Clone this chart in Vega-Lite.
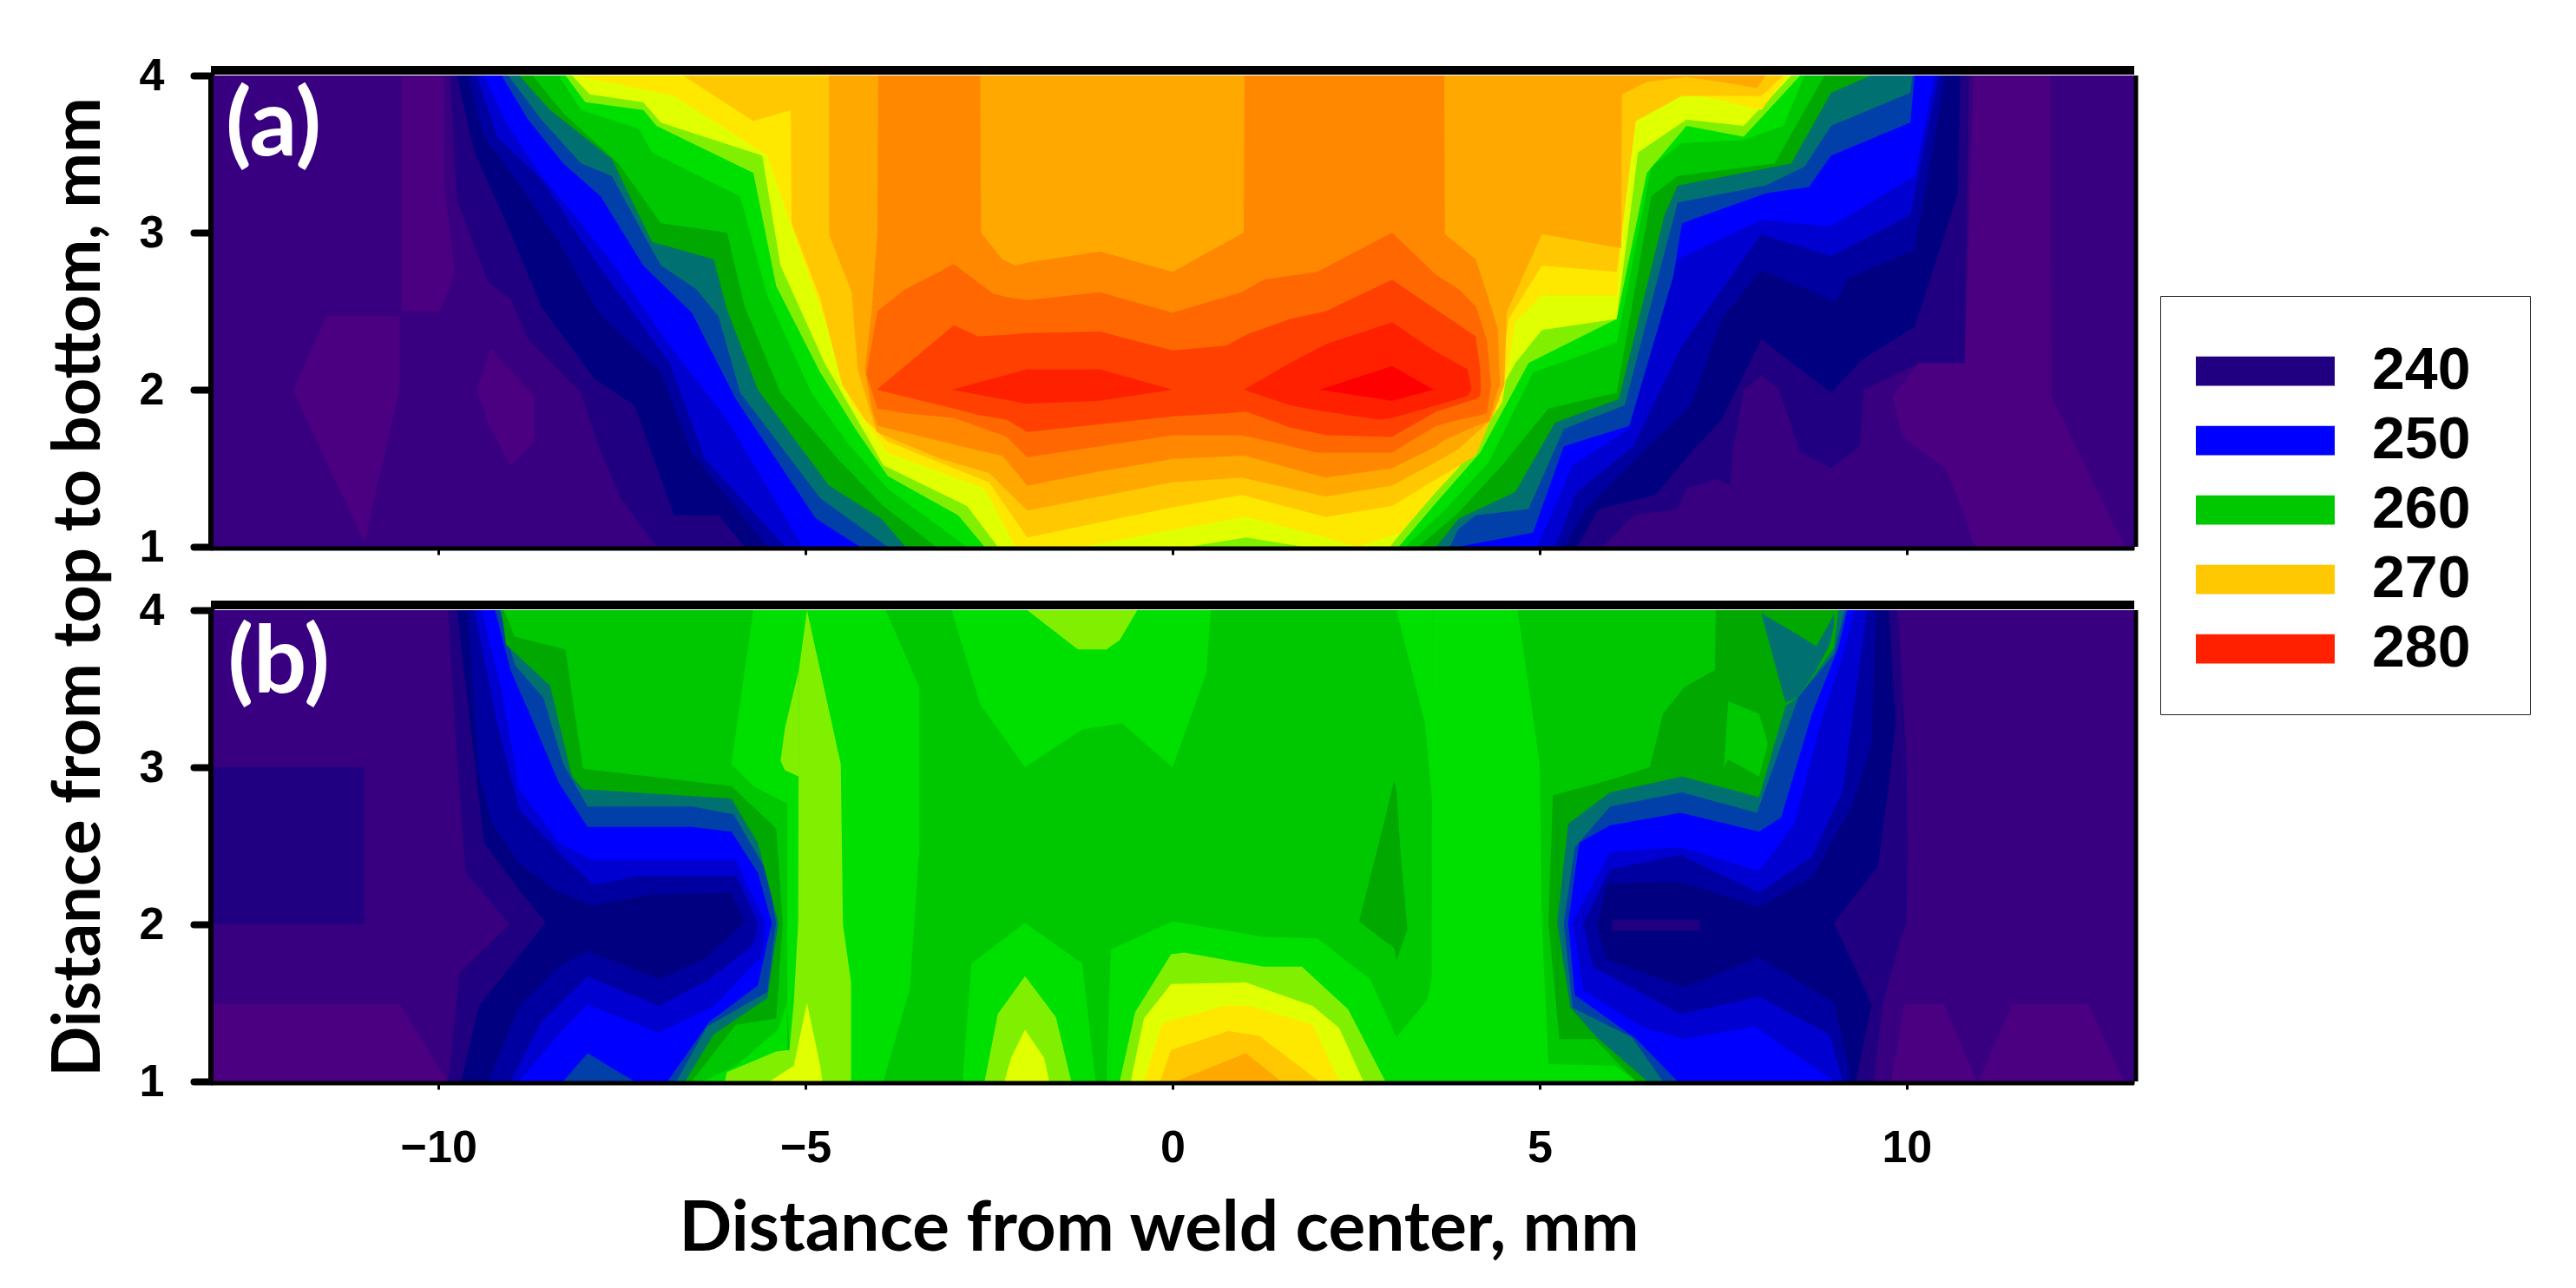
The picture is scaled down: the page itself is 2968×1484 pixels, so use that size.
{"$schema":"https://vega.github.io/schema/vega-lite/v6.json","background":"white","padding":{"left":52,"top":61,"right":20,"bottom":20},"bounds":"flush","spacing":73,
"config":{"view":{"stroke":null},"axis":{"grid":false,"domain":true,"zindex":1,"domainColor":"black","tickColor":"black","labelColor":"black","titleColor":"black","labelFont":"Liberation Sans","labelFontWeight":"bold","labelFontSize":52,"titleFont":"Lato","titleFontWeight":"bold","titleFontSize":78}},
"datasets":{"a":[
{"level":238,"part":0,"x":-13.1,"y":1,"y2":4},{"level":238,"part":0,"x":13.1,"y":1,"y2":4},
{"level":236,"part":1,"x":-10.5,"y":2.5,"y2":4},{"level":236,"part":1,"x":-10,"y":2.5,"y2":4},{"level":236,"part":1,"x":-9.93,"y":2.55,"y2":4},{"level":236,"part":1,"x":-9.92,"y":2.57,"y2":3.3},{"level":236,"part":1,"x":-9.84,"y":2.65,"y2":3},{"level":236,"part":1,"x":-9.78,"y":2.77,"y2":2.77},
{"level":236,"part":2,"x":-11.98,"y":2,"y2":2},{"level":236,"part":2,"x":-11.53,"y":1.54,"y2":2.47},{"level":236,"part":2,"x":-11.01,"y":1.03,"y2":2.47},{"level":236,"part":2,"x":-10.53,"y":2,"y2":2.47},
{"level":236,"part":3,"x":-9.48,"y":2,"y2":2},{"level":236,"part":3,"x":-9.29,"y":1.75,"y2":2.26},{"level":236,"part":3,"x":-9.02,"y":1.52,"y2":2.12},{"level":236,"part":3,"x":-8.69,"y":1.67,"y2":1.96},
{"level":236,"part":4,"x":9.81,"y":1.96,"y2":1.96},{"level":236,"part":4,"x":9.93,"y":1.71,"y2":2.03},{"level":236,"part":4,"x":10.17,"y":1.62,"y2":2.17},{"level":236,"part":4,"x":10.53,"y":1.5,"y2":2.17},{"level":236,"part":4,"x":10.79,"y":1.2,"y2":2.17},{"level":236,"part":4,"x":10.91,"y":1.02,"y2":4},{"level":236,"part":4,"x":10.97,"y":1,"y2":4},{"level":236,"part":4,"x":11.96,"y":1,"y2":4},{"level":236,"part":4,"x":11.97,"y":1,"y2":1.96},{"level":236,"part":4,"x":12.97,"y":1,"y2":1},
{"level":240,"part":0,"x":-9.84,"y":4,"y2":4},{"level":240,"part":0,"x":-9.75,"y":3.21,"y2":4},{"level":240,"part":0,"x":-9.32,"y":2.68,"y2":4},{"level":240,"part":0,"x":-9.02,"y":2.58,"y2":4},{"level":240,"part":0,"x":-8.78,"y":2.32,"y2":4},{"level":240,"part":0,"x":-8.06,"y":1.98,"y2":4},{"level":240,"part":0,"x":-7.82,"y":1.64,"y2":4},{"level":240,"part":0,"x":-7.52,"y":1.31,"y2":4},{"level":240,"part":0,"x":-7.03,"y":1,"y2":4},{"level":240,"part":0,"x":5.84,"y":1,"y2":4},{"level":240,"part":0,"x":5.93,"y":1.03,"y2":4},{"level":240,"part":0,"x":6.28,"y":1.2,"y2":4},{"level":240,"part":0,"x":6.88,"y":1.24,"y2":4},{"level":240,"part":0,"x":7,"y":1.37,"y2":4},{"level":240,"part":0,"x":7.42,"y":1.43,"y2":4},{"level":240,"part":0,"x":7.6,"y":1.39,"y2":4},{"level":240,"part":0,"x":7.63,"y":1.6,"y2":4},{"level":240,"part":0,"x":7.78,"y":2,"y2":4},{"level":240,"part":0,"x":8.02,"y":2.09,"y2":4},{"level":240,"part":0,"x":8.26,"y":2,"y2":4},{"level":240,"part":0,"x":8.55,"y":1.6,"y2":4},{"level":240,"part":0,"x":8.97,"y":1.5,"y2":4},{"level":240,"part":0,"x":9.36,"y":1.64,"y2":4},{"level":240,"part":0,"x":9.42,"y":2,"y2":4},{"level":240,"part":0,"x":10.17,"y":2.17,"y2":4},{"level":240,"part":0,"x":10.79,"y":2.17,"y2":4},{"level":240,"part":0,"x":10.85,"y":4,"y2":4},
{"level":242,"part":0,"x":-9.75,"y":4,"y2":4},{"level":242,"part":0,"x":-9.51,"y":3.51,"y2":4},{"level":242,"part":0,"x":-9.02,"y":3,"y2":4},{"level":242,"part":0,"x":-8.6,"y":2.53,"y2":4},{"level":242,"part":0,"x":-7.88,"y":2.07,"y2":4},{"level":242,"part":0,"x":-7.33,"y":1.9,"y2":4},{"level":242,"part":0,"x":-6.79,"y":1.2,"y2":4},{"level":242,"part":0,"x":-6.19,"y":1.2,"y2":4},{"level":242,"part":0,"x":-5.83,"y":1,"y2":4},{"level":242,"part":0,"x":5.51,"y":1,"y2":4},{"level":242,"part":0,"x":5.81,"y":1.24,"y2":4},{"level":242,"part":0,"x":6.58,"y":1.33,"y2":4},{"level":242,"part":0,"x":7.06,"y":1.6,"y2":4},{"level":242,"part":0,"x":7.48,"y":1.81,"y2":4},{"level":242,"part":0,"x":8.02,"y":2.32,"y2":4},{"level":242,"part":0,"x":8.97,"y":1.98,"y2":4},{"level":242,"part":0,"x":9.39,"y":2.19,"y2":4},{"level":242,"part":0,"x":10.11,"y":2.4,"y2":4},{"level":242,"part":0,"x":10.7,"y":3.25,"y2":4},{"level":242,"part":0,"x":10.73,"y":4,"y2":4},
{"level":244,"part":0,"x":-9.6,"y":4,"y2":4},{"level":244,"part":0,"x":-9.38,"y":3.61,"y2":4},{"level":244,"part":0,"x":-8.78,"y":3.23,"y2":4},{"level":244,"part":0,"x":-8.36,"y":2.94,"y2":4},{"level":244,"part":0,"x":-7.82,"y":2.49,"y2":4},{"level":244,"part":0,"x":-6.97,"y":2.11,"y2":4},{"level":244,"part":0,"x":-6.55,"y":1.6,"y2":4},{"level":244,"part":0,"x":-5.52,"y":1,"y2":4},{"level":244,"part":0,"x":5.33,"y":1,"y2":4},{"level":244,"part":0,"x":5.63,"y":1.24,"y2":4},{"level":244,"part":0,"x":6.4,"y":1.6,"y2":4},{"level":244,"part":0,"x":7.06,"y":1.9,"y2":4},{"level":244,"part":0,"x":7.48,"y":2.45,"y2":4},{"level":244,"part":0,"x":8.02,"y":2.76,"y2":4},{"level":244,"part":0,"x":9.03,"y":2.56,"y2":4},{"level":244,"part":0,"x":9.21,"y":2.71,"y2":4},{"level":244,"part":0,"x":10.11,"y":2.89,"y2":4},{"level":244,"part":0,"x":10.53,"y":4,"y2":4},
{"level":246,"part":0,"x":-9.48,"y":4,"y2":4},{"level":246,"part":0,"x":-9.2,"y":3.61,"y2":4},{"level":246,"part":0,"x":-8.6,"y":3.34,"y2":4},{"level":246,"part":0,"x":-7.88,"y":2.83,"y2":4},{"level":246,"part":0,"x":-6.85,"y":2.17,"y2":4},{"level":246,"part":0,"x":-6.37,"y":1.56,"y2":4},{"level":246,"part":0,"x":-5.28,"y":1,"y2":4},{"level":246,"part":0,"x":5.21,"y":1,"y2":4},{"level":246,"part":0,"x":5.51,"y":1.35,"y2":4},{"level":246,"part":0,"x":6.28,"y":1.64,"y2":4},{"level":246,"part":0,"x":6.94,"y":2.28,"y2":4},{"level":246,"part":0,"x":8.02,"y":2.99,"y2":4},{"level":246,"part":0,"x":8.97,"y":2.85,"y2":4},{"level":246,"part":0,"x":10.05,"y":3.11,"y2":4},{"level":246,"part":0,"x":10.44,"y":4,"y2":4},
{"level":250,"part":0,"x":-9.38,"y":4,"y2":4},{"level":250,"part":0,"x":-9.08,"y":3.7,"y2":4},{"level":250,"part":0,"x":-8.6,"y":3.36,"y2":4},{"level":250,"part":0,"x":-8.18,"y":3.13,"y2":4},{"level":250,"part":0,"x":-7.67,"y":2.83,"y2":4},{"level":250,"part":0,"x":-6.85,"y":2.28,"y2":4},{"level":250,"part":0,"x":-6.07,"y":1.81,"y2":4},{"level":250,"part":0,"x":-5.04,"y":1,"y2":4},{"level":250,"part":0,"x":4.97,"y":1,"y2":4},{"level":250,"part":0,"x":5.45,"y":1.52,"y2":4},{"level":250,"part":0,"x":6.22,"y":1.75,"y2":4},{"level":250,"part":0,"x":6.88,"y":2.83,"y2":4},{"level":250,"part":0,"x":8.02,"y":3.08,"y2":4},{"level":250,"part":0,"x":8.97,"y":3.04,"y2":4},{"level":250,"part":0,"x":10.11,"y":3.36,"y2":4},{"level":250,"part":0,"x":10.38,"y":4,"y2":4},
{"level":252,"part":0,"x":-9.14,"y":4,"y2":4},{"level":252,"part":0,"x":-8.78,"y":3.72,"y2":4},{"level":252,"part":0,"x":-8.3,"y":3.44,"y2":4},{"level":252,"part":0,"x":-7.79,"y":3.23,"y2":4},{"level":252,"part":0,"x":-7.21,"y":2.79,"y2":4},{"level":252,"part":0,"x":-6.55,"y":2.49,"y2":4},{"level":252,"part":0,"x":-5.95,"y":1.94,"y2":4},{"level":252,"part":0,"x":-4.86,"y":1.18,"y2":4},{"level":252,"part":0,"x":-4.26,"y":1,"y2":4},{"level":252,"part":0,"x":3.89,"y":1,"y2":4},{"level":252,"part":0,"x":4.91,"y":1.09,"y2":4},{"level":252,"part":0,"x":5.33,"y":1.64,"y2":4},{"level":252,"part":0,"x":6.22,"y":1.77,"y2":4},{"level":252,"part":0,"x":6.82,"y":2.72,"y2":4},{"level":252,"part":0,"x":6.94,"y":3.06,"y2":4},{"level":252,"part":0,"x":8.08,"y":3.25,"y2":4},{"level":252,"part":0,"x":8.67,"y":3.29,"y2":4},{"level":252,"part":0,"x":8.97,"y":3.49,"y2":4},{"level":252,"part":0,"x":10.05,"y":3.7,"y2":4},{"level":252,"part":0,"x":10.11,"y":4,"y2":4},
{"level":254,"part":0,"x":-9.05,"y":4,"y2":4},{"level":254,"part":0,"x":-8.6,"y":3.72,"y2":4},{"level":254,"part":0,"x":-8.06,"y":3.44,"y2":4},{"level":254,"part":0,"x":-7.64,"y":3.36,"y2":4},{"level":254,"part":0,"x":-7.09,"y":2.89,"y2":4},{"level":254,"part":0,"x":-6.97,"y":2.79,"y2":4},{"level":254,"part":0,"x":-6.49,"y":2.64,"y2":4},{"level":254,"part":0,"x":-6.19,"y":2.47,"y2":4},{"level":254,"part":0,"x":-5.89,"y":1.98,"y2":4},{"level":254,"part":0,"x":-4.8,"y":1.31,"y2":4},{"level":254,"part":0,"x":-4.15,"y":1.09,"y2":4},{"level":254,"part":0,"x":-3.88,"y":1,"y2":4},{"level":254,"part":0,"x":3.78,"y":1,"y2":4},{"level":254,"part":0,"x":3.89,"y":1.11,"y2":4},{"level":254,"part":0,"x":4.13,"y":1.2,"y2":4},{"level":254,"part":0,"x":4.85,"y":1.24,"y2":4},{"level":254,"part":0,"x":5.33,"y":1.75,"y2":4},{"level":254,"part":0,"x":6.16,"y":1.9,"y2":4},{"level":254,"part":0,"x":6.7,"y":2.87,"y2":4},{"level":254,"part":0,"x":6.88,"y":3.19,"y2":4},{"level":254,"part":0,"x":8.08,"y":3.3,"y2":4},{"level":254,"part":0,"x":8.61,"y":3.42,"y2":4},{"level":254,"part":0,"x":8.97,"y":3.68,"y2":4},{"level":254,"part":0,"x":10.05,"y":3.89,"y2":4},{"level":254,"part":0,"x":10.08,"y":4,"y2":4},
{"level":256,"part":0,"x":-8.9,"y":4,"y2":4},{"level":256,"part":0,"x":-8.48,"y":3.78,"y2":4},{"level":256,"part":0,"x":-7.64,"y":3.47,"y2":4},{"level":256,"part":0,"x":-7.09,"y":2.94,"y2":4},{"level":256,"part":0,"x":-6.25,"y":2.83,"y2":4},{"level":256,"part":0,"x":-6.07,"y":2.51,"y2":4},{"level":256,"part":0,"x":-5.65,"y":2,"y2":4},{"level":256,"part":0,"x":-4.68,"y":1.39,"y2":4},{"level":256,"part":0,"x":-3.97,"y":1.18,"y2":4},{"level":256,"part":0,"x":-3.64,"y":1,"y2":4},{"level":256,"part":0,"x":3.59,"y":1,"y2":4},{"level":256,"part":0,"x":3.9,"y":1.18,"y2":4},{"level":256,"part":0,"x":4.67,"y":1.35,"y2":4},{"level":256,"part":0,"x":5.21,"y":1.79,"y2":4},{"level":256,"part":0,"x":6.08,"y":1.94,"y2":4},{"level":256,"part":0,"x":6.7,"y":3.11,"y2":4},{"level":256,"part":0,"x":6.88,"y":3.3,"y2":4},{"level":256,"part":0,"x":8.43,"y":3.44,"y2":4},{"level":256,"part":0,"x":8.97,"y":3.89,"y2":4},{"level":256,"part":0,"x":9.51,"y":4,"y2":4},
{"level":260,"part":0,"x":-8.72,"y":4,"y2":4},{"level":260,"part":0,"x":-8.3,"y":3.76,"y2":4},{"level":260,"part":0,"x":-7.55,"y":3.44,"y2":4},{"level":260,"part":0,"x":-6.97,"y":3.06,"y2":4},{"level":260,"part":0,"x":-6.07,"y":3,"y2":4},{"level":260,"part":0,"x":-5.83,"y":2.53,"y2":4},{"level":260,"part":0,"x":-5.34,"y":1.98,"y2":4},{"level":260,"part":0,"x":-4.56,"y":1.56,"y2":4},{"level":260,"part":0,"x":-3.94,"y":1.26,"y2":4},{"level":260,"part":0,"x":-3.22,"y":1,"y2":4},{"level":260,"part":0,"x":3.35,"y":1,"y2":4},{"level":260,"part":0,"x":3.9,"y":1.22,"y2":4},{"level":260,"part":0,"x":4.49,"y":1.52,"y2":4},{"level":260,"part":0,"x":5.12,"y":1.88,"y2":4},{"level":260,"part":0,"x":6.05,"y":1.98,"y2":4},{"level":260,"part":0,"x":6.52,"y":3.23,"y2":4},{"level":260,"part":0,"x":6.88,"y":3.36,"y2":4},{"level":260,"part":0,"x":8.2,"y":3.44,"y2":4},{"level":260,"part":0,"x":8.88,"y":4,"y2":4},
{"level":262,"part":0,"x":-8.36,"y":4,"y2":4},{"level":262,"part":0,"x":-8.06,"y":3.78,"y2":4},{"level":262,"part":0,"x":-7.27,"y":3.66,"y2":4},{"level":262,"part":0,"x":-7.09,"y":3.51,"y2":4},{"level":262,"part":0,"x":-5.89,"y":3.23,"y2":4},{"level":262,"part":0,"x":-5.52,"y":2.6,"y2":4},{"level":262,"part":0,"x":-4.92,"y":1.98,"y2":4},{"level":262,"part":0,"x":-4.44,"y":1.67,"y2":4},{"level":262,"part":0,"x":-3.88,"y":1.37,"y2":4},{"level":262,"part":0,"x":-2.8,"y":1,"y2":4},{"level":262,"part":0,"x":3.17,"y":1,"y2":4},{"level":262,"part":0,"x":3.72,"y":1.24,"y2":4},{"level":262,"part":0,"x":4.31,"y":1.54,"y2":4},{"level":262,"part":0,"x":4.91,"y":2.11,"y2":4},{"level":262,"part":0,"x":6.05,"y":2.3,"y2":4},{"level":262,"part":0,"x":6.52,"y":3.42,"y2":4},{"level":262,"part":0,"x":6.94,"y":3.57,"y2":4},{"level":262,"part":0,"x":7.78,"y":3.59,"y2":4},{"level":262,"part":0,"x":8.32,"y":3.68,"y2":4},{"level":262,"part":0,"x":8.61,"y":4,"y2":4},
{"level":264,"part":0,"x":-8.27,"y":4,"y2":4},{"level":264,"part":0,"x":-8,"y":3.83,"y2":4},{"level":264,"part":0,"x":-7.21,"y":3.78,"y2":4},{"level":264,"part":0,"x":-7.03,"y":3.68,"y2":4},{"level":264,"part":0,"x":-5.71,"y":3.38,"y2":4},{"level":264,"part":0,"x":-5.4,"y":2.66,"y2":4},{"level":264,"part":0,"x":-4.8,"y":2.11,"y2":4},{"level":264,"part":0,"x":-4.32,"y":1.75,"y2":4},{"level":264,"part":0,"x":-3.88,"y":1.45,"y2":4},{"level":264,"part":0,"x":-2.92,"y":1.2,"y2":4},{"level":264,"part":0,"x":-2.56,"y":1,"y2":4},{"level":264,"part":0,"x":3.08,"y":1,"y2":4},{"level":264,"part":0,"x":3.59,"y":1.28,"y2":4},{"level":264,"part":0,"x":4.19,"y":1.6,"y2":4},{"level":264,"part":0,"x":4.85,"y":2.17,"y2":4},{"level":264,"part":0,"x":6.05,"y":2.45,"y2":4},{"level":264,"part":0,"x":6.46,"y":3.38,"y2":4},{"level":264,"part":0,"x":7,"y":3.68,"y2":4},{"level":264,"part":0,"x":7.78,"y":3.61,"y2":4},{"level":264,"part":0,"x":8.55,"y":4,"y2":4},
{"level":266,"part":0,"x":-8.18,"y":4,"y2":4},{"level":266,"part":0,"x":-7.94,"y":3.88,"y2":4},{"level":266,"part":0,"x":-7.21,"y":3.83,"y2":4},{"level":266,"part":0,"x":-6.97,"y":3.7,"y2":4},{"level":266,"part":0,"x":-5.59,"y":3.49,"y2":4},{"level":266,"part":0,"x":-5.34,"y":2.79,"y2":4},{"level":266,"part":0,"x":-4.74,"y":2.17,"y2":4},{"level":266,"part":0,"x":-4.32,"y":1.83,"y2":4},{"level":266,"part":0,"x":-3.94,"y":1.52,"y2":4},{"level":266,"part":0,"x":-2.8,"y":1.26,"y2":4},{"level":266,"part":0,"x":-2.38,"y":1,"y2":4},{"level":266,"part":0,"x":0.22,"y":1,"y2":4},{"level":266,"part":0,"x":1,"y":1.06,"y2":4},{"level":266,"part":0,"x":1.79,"y":1,"y2":4},{"level":266,"part":0,"x":2.96,"y":1,"y2":4},{"level":266,"part":0,"x":3.53,"y":1.33,"y2":4},{"level":266,"part":0,"x":4.1,"y":1.69,"y2":4},{"level":266,"part":0,"x":4.67,"y":2.17,"y2":4},{"level":266,"part":0,"x":5.03,"y":2.38,"y2":4},{"level":266,"part":0,"x":6.05,"y":2.45,"y2":4},{"level":266,"part":0,"x":6.34,"y":3.51,"y2":4},{"level":266,"part":0,"x":7,"y":3.72,"y2":4},{"level":266,"part":0,"x":7.78,"y":3.68,"y2":4},{"level":266,"part":0,"x":8.43,"y":4,"y2":4},
{"level":268,"part":0,"x":-8.18,"y":4,"y2":4},{"level":268,"part":0,"x":-7.58,"y":3.95,"y2":4},{"level":268,"part":0,"x":-6.79,"y":3.87,"y2":4},{"level":268,"part":0,"x":-5.52,"y":3.49,"y2":4},{"level":268,"part":0,"x":-5.22,"y":3.08,"y2":4},{"level":268,"part":0,"x":-4.74,"y":2.45,"y2":4},{"level":268,"part":0,"x":-4.38,"y":1.92,"y2":4},{"level":268,"part":0,"x":-3.88,"y":1.6,"y2":4},{"level":268,"part":0,"x":-2.56,"y":1.37,"y2":4},{"level":268,"part":0,"x":-2.14,"y":1,"y2":4},{"level":268,"part":0,"x":-1.23,"y":1,"y2":4},{"level":268,"part":0,"x":-0.21,"y":1.09,"y2":4},{"level":268,"part":0,"x":1,"y":1.19,"y2":4},{"level":268,"part":0,"x":2.09,"y":1.06,"y2":4},{"level":268,"part":0,"x":2.51,"y":1,"y2":4},{"level":268,"part":0,"x":3.11,"y":1.09,"y2":4},{"level":268,"part":0,"x":3.59,"y":1.35,"y2":4},{"level":268,"part":0,"x":3.89,"y":1.5,"y2":4},{"level":268,"part":0,"x":4.49,"y":1.92,"y2":4},{"level":268,"part":0,"x":4.67,"y":2.43,"y2":4},{"level":268,"part":0,"x":5.03,"y":2.6,"y2":4},{"level":268,"part":0,"x":6.05,"y":2.6,"y2":4},{"level":268,"part":0,"x":6.28,"y":3.72,"y2":4},{"level":268,"part":0,"x":6.94,"y":3.9,"y2":4},{"level":268,"part":0,"x":8.02,"y":3.78,"y2":4},{"level":268,"part":0,"x":8.37,"y":4,"y2":4},
{"level":270,"part":0,"x":-6.67,"y":4,"y2":4},{"level":270,"part":0,"x":-5.71,"y":3.71,"y2":4},{"level":270,"part":0,"x":-5.2,"y":3.78,"y2":4},{"level":270,"part":0,"x":-5.19,"y":3.06,"y2":4},{"level":270,"part":0,"x":-4.8,"y":2.58,"y2":4},{"level":270,"part":0,"x":-4.5,"y":2.03,"y2":4},{"level":270,"part":0,"x":-4.19,"y":1.81,"y2":4},{"level":270,"part":0,"x":-3.88,"y":1.67,"y2":4},{"level":270,"part":0,"x":-2.5,"y":1.41,"y2":4},{"level":270,"part":0,"x":-1.98,"y":1.06,"y2":4},{"level":270,"part":0,"x":-0.02,"y":1.25,"y2":4},{"level":270,"part":0,"x":0.94,"y":1.33,"y2":4},{"level":270,"part":0,"x":2.09,"y":1.19,"y2":4},{"level":270,"part":0,"x":2.99,"y":1.26,"y2":4},{"level":270,"part":0,"x":3.59,"y":1.43,"y2":4},{"level":270,"part":0,"x":4.13,"y":1.58,"y2":4},{"level":270,"part":0,"x":4.43,"y":1.92,"y2":4},{"level":270,"part":0,"x":4.58,"y":2.45,"y2":4},{"level":270,"part":0,"x":5.03,"y":2.79,"y2":4},{"level":270,"part":0,"x":6.05,"y":2.75,"y2":4},{"level":270,"part":0,"x":6.31,"y":3.71,"y2":4},{"level":270,"part":0,"x":6.94,"y":3.87,"y2":4},{"level":270,"part":0,"x":8.02,"y":3.87,"y2":4},{"level":270,"part":0,"x":8.32,"y":4,"y2":4},
{"level":272,"part":0,"x":-4.68,"y":2.99,"y2":4},{"level":272,"part":0,"x":-4.37,"y":2.62,"y2":4},{"level":272,"part":0,"x":-4.29,"y":2.13,"y2":4},{"level":272,"part":0,"x":-4.03,"y":1.73,"y2":4},{"level":272,"part":0,"x":-3.16,"y":1.56,"y2":4},{"level":272,"part":0,"x":-2.5,"y":1.47,"y2":4},{"level":272,"part":0,"x":-1.98,"y":1.23,"y2":4},{"level":272,"part":0,"x":-0.02,"y":1.41,"y2":4},{"level":272,"part":0,"x":0.94,"y":1.44,"y2":4},{"level":272,"part":0,"x":2.09,"y":1.32,"y2":4},{"level":272,"part":0,"x":2.99,"y":1.39,"y2":4},{"level":272,"part":0,"x":3.59,"y":1.54,"y2":4},{"level":272,"part":0,"x":3.89,"y":1.62,"y2":4},{"level":272,"part":0,"x":4.34,"y":1.81,"y2":4},{"level":272,"part":0,"x":4.52,"y":2.03,"y2":4},{"level":272,"part":0,"x":4.55,"y":2.49,"y2":4},{"level":272,"part":0,"x":5.03,"y":2.99,"y2":4},{"level":272,"part":0,"x":6.11,"y":2.9,"y2":4},{"level":272,"part":0,"x":6.12,"y":3.88,"y2":4},{"level":272,"part":0,"x":6.46,"y":3.96,"y2":4},{"level":272,"part":0,"x":7,"y":3.99,"y2":4},{"level":272,"part":0,"x":7.6,"y":3.95,"y2":4},{"level":272,"part":0,"x":7.96,"y":3.92,"y2":4},{"level":272,"part":0,"x":8.08,"y":4,"y2":4},
{"level":274,"part":0,"x":-4.19,"y":2.13,"y2":2.13},{"level":274,"part":0,"x":-4.1,"y":1.88,"y2":2.49},{"level":274,"part":0,"x":-4.02,"y":1.77,"y2":3},{"level":274,"part":0,"x":-4.01,"y":1.77,"y2":4},{"level":274,"part":0,"x":-2.62,"y":1.61,"y2":4},{"level":274,"part":0,"x":-2.61,"y":1.61,"y2":3},{"level":274,"part":0,"x":-2.32,"y":1.58,"y2":2.83},{"level":274,"part":0,"x":-2.14,"y":1.48,"y2":2.79},{"level":274,"part":0,"x":-1.98,"y":1.39,"y2":2.81},{"level":274,"part":0,"x":-0.99,"y":1.48,"y2":2.88},{"level":274,"part":0,"x":0,"y":1.56,"y2":2.75},{"level":274,"part":0,"x":0.97,"y":1.58,"y2":3},{"level":274,"part":0,"x":0.98,"y":1.58,"y2":4},{"level":274,"part":0,"x":2.09,"y":1.44,"y2":4},{"level":274,"part":0,"x":2.99,"y":1.5,"y2":4},{"level":274,"part":0,"x":3.59,"y":1.64,"y2":4},{"level":274,"part":0,"x":3.7,"y":1.68,"y2":4},{"level":274,"part":0,"x":3.71,"y":1.68,"y2":2.99},{"level":274,"part":0,"x":4.13,"y":1.77,"y2":2.83},{"level":274,"part":0,"x":4.31,"y":1.8,"y2":2.57},{"level":274,"part":0,"x":4.43,"y":2,"y2":2.39},{"level":274,"part":0,"x":4.46,"y":2.03,"y2":2.03},
{"level":276,"part":0,"x":-4.17,"y":2.1,"y2":2.1},{"level":276,"part":0,"x":-4.02,"y":1.88,"y2":2.5},{"level":276,"part":0,"x":-3.64,"y":1.85,"y2":2.64},{"level":276,"part":0,"x":-2.98,"y":1.82,"y2":2.8},{"level":276,"part":0,"x":-2.44,"y":1.73,"y2":2.61},{"level":276,"part":0,"x":-2.26,"y":1.7,"y2":2.59},{"level":276,"part":0,"x":-1.98,"y":1.57,"y2":2.57},{"level":276,"part":0,"x":-0.99,"y":1.64,"y2":2.62},{"level":276,"part":0,"x":0,"y":1.71,"y2":2.49},{"level":276,"part":0,"x":0.94,"y":1.71,"y2":2.62},{"level":276,"part":0,"x":1.24,"y":1.68,"y2":2.7},{"level":276,"part":0,"x":1.97,"y":1.6,"y2":2.75},{"level":276,"part":0,"x":2.99,"y":1.6,"y2":3},{"level":276,"part":0,"x":3.59,"y":1.77,"y2":2.73},{"level":276,"part":0,"x":3.9,"y":1.81,"y2":2.64},{"level":276,"part":0,"x":4.13,"y":1.83,"y2":2.53},{"level":276,"part":0,"x":4.28,"y":1.85,"y2":2.32},{"level":276,"part":0,"x":4.34,"y":2.03,"y2":2.03},
{"level":278,"part":0,"x":-4.03,"y":2,"y2":2},{"level":278,"part":0,"x":-3.16,"y":1.9,"y2":2.34},{"level":278,"part":0,"x":-2.98,"y":1.88,"y2":2.41},{"level":278,"part":0,"x":-2.65,"y":1.84,"y2":2.34},{"level":278,"part":0,"x":-2.26,"y":1.81,"y2":2.35},{"level":278,"part":0,"x":-1.98,"y":1.73,"y2":2.36},{"level":278,"part":0,"x":-0.99,"y":1.78,"y2":2.37},{"level":278,"part":0,"x":0,"y":1.83,"y2":2.25},{"level":278,"part":0,"x":0.73,"y":1.85,"y2":2.28},{"level":278,"part":0,"x":1,"y":1.86,"y2":2.35},{"level":278,"part":0,"x":1.6,"y":1.76,"y2":2.45},{"level":278,"part":0,"x":2.09,"y":1.71,"y2":2.5},{"level":278,"part":0,"x":2.99,"y":1.7,"y2":2.7},{"level":278,"part":0,"x":3.59,"y":1.86,"y2":2.51},{"level":278,"part":0,"x":4.13,"y":1.94,"y2":2.34},{"level":278,"part":0,"x":4.19,"y":1.96,"y2":2.13},{"level":278,"part":0,"x":4.2,"y":2,"y2":2},
{"level":280,"part":1,"x":-3.01,"y":2,"y2":2},{"level":280,"part":1,"x":-1.98,"y":1.91,"y2":2.13},{"level":280,"part":1,"x":-0.99,"y":1.93,"y2":2.13},{"level":280,"part":1,"x":0,"y":2,"y2":2},
{"level":280,"part":2,"x":0.97,"y":2,"y2":2},{"level":280,"part":2,"x":1.6,"y":1.9,"y2":2.17},{"level":280,"part":2,"x":2.09,"y":1.86,"y2":2.29},{"level":280,"part":2,"x":2.81,"y":1.81,"y2":2.4},{"level":280,"part":2,"x":2.99,"y":1.82,"y2":2.43},{"level":280,"part":2,"x":3.59,"y":1.9,"y2":2.24},{"level":280,"part":2,"x":4.02,"y":1.96,"y2":2.13},{"level":280,"part":2,"x":4.07,"y":2,"y2":2},
{"level":282,"part":0,"x":2,"y":2,"y2":2},{"level":282,"part":0,"x":2.99,"y":1.93,"y2":2.15},{"level":282,"part":0,"x":3.56,"y":2,"y2":2}
],"b":[
{"level":238,"part":0,"x":-13.1,"y":1,"y2":4},{"level":238,"part":0,"x":13.1,"y":1,"y2":4},
{"level":236,"part":1,"x":-13.1,"y":1,"y2":1.49},{"level":236,"part":1,"x":-10.53,"y":1,"y2":1.49},{"level":236,"part":1,"x":-9.87,"y":1,"y2":1},
{"level":236,"part":2,"x":9.79,"y":1,"y2":1},{"level":236,"part":2,"x":9.97,"y":1,"y2":1.49},{"level":236,"part":2,"x":10.51,"y":1,"y2":1.49},{"level":236,"part":2,"x":10.95,"y":1,"y2":1},
{"level":236,"part":3,"x":10.98,"y":1,"y2":1},{"level":236,"part":3,"x":11.43,"y":1,"y2":1.49},{"level":236,"part":3,"x":12.48,"y":1,"y2":1.49},{"level":236,"part":3,"x":12.96,"y":1,"y2":1},
{"level":240,"part":1,"x":-13.1,"y":2,"y2":3},{"level":240,"part":1,"x":-11.01,"y":2,"y2":3},
{"level":240,"part":2,"x":-9.87,"y":4,"y2":4},{"level":240,"part":2,"x":-9.75,"y":3.07,"y2":4},{"level":240,"part":2,"x":-9.63,"y":2.33,"y2":4},{"level":240,"part":2,"x":-9.03,"y":2,"y2":4},
{"level":240,"part":3,"x":-9.87,"y":1,"y2":1},{"level":240,"part":3,"x":-9.78,"y":1,"y2":1.37},{"level":240,"part":3,"x":-9.72,"y":1,"y2":1.69},{"level":240,"part":3,"x":-9.03,"y":1,"y2":2},
{"level":240,"part":4,"x":-9.03,"y":1,"y2":4},{"level":240,"part":4,"x":9.55,"y":1,"y2":4},{"level":240,"part":4,"x":9.67,"y":1.48,"y2":4},{"level":240,"part":4,"x":9.88,"y":1.85,"y2":4},{"level":240,"part":4,"x":10,"y":2.01,"y2":3.04},{"level":240,"part":4,"x":10.01,"y":2.5,"y2":2.5},
{"level":242,"part":1,"x":-9.75,"y":4,"y2":4},{"level":242,"part":1,"x":-9.38,"y":2.52,"y2":4},{"level":242,"part":1,"x":-8.9,"y":2.22,"y2":4},{"level":242,"part":1,"x":-8.54,"y":2.01,"y2":4},
{"level":242,"part":2,"x":-9.69,"y":1,"y2":1},{"level":242,"part":2,"x":-9.45,"y":1,"y2":1.48},{"level":242,"part":2,"x":-8.54,"y":1,"y2":2.01},
{"level":242,"part":3,"x":-8.54,"y":1,"y2":4},{"level":242,"part":3,"x":9.01,"y":1,"y2":4},
{"level":242,"part":4,"x":9.01,"y":2.01,"y2":4},{"level":242,"part":4,"x":9.61,"y":2.37,"y2":4},{"level":242,"part":4,"x":9.76,"y":2.9,"y2":4},{"level":242,"part":4,"x":9.85,"y":3.28,"y2":3.28},
{"level":242,"part":5,"x":9.01,"y":1,"y2":2.01},{"level":242,"part":5,"x":9.31,"y":1,"y2":1.71},{"level":242,"part":5,"x":9.52,"y":1.49,"y2":1.49},
{"level":240,"part":5,"x":5.99,"y":1.96,"y2":2.03},{"level":240,"part":5,"x":7.18,"y":1.96,"y2":2.03},
{"level":244,"part":1,"x":-9.6,"y":4,"y2":4},{"level":244,"part":1,"x":-9.45,"y":2.96,"y2":4},{"level":244,"part":1,"x":-9.27,"y":2.64,"y2":4},{"level":244,"part":1,"x":-8.9,"y":2.39,"y2":4},{"level":244,"part":1,"x":-8.42,"y":2.22,"y2":4},{"level":244,"part":1,"x":-7.91,"y":2.12,"y2":4},{"level":244,"part":1,"x":-7.09,"y":2.19,"y2":4},{"level":244,"part":1,"x":-6.01,"y":2.2,"y2":4},{"level":244,"part":1,"x":-5.83,"y":2.01,"y2":4},
{"level":244,"part":2,"x":-9.32,"y":1,"y2":1},{"level":244,"part":2,"x":-8.9,"y":1,"y2":1.48},{"level":244,"part":2,"x":-8.36,"y":1,"y2":1.73},{"level":244,"part":2,"x":-7.97,"y":1,"y2":1.83},{"level":244,"part":2,"x":-7,"y":1,"y2":1.65},{"level":244,"part":2,"x":-6.37,"y":1,"y2":1.78},{"level":244,"part":2,"x":-5.83,"y":1,"y2":2.01},
{"level":244,"part":3,"x":-5.83,"y":1,"y2":4},{"level":244,"part":3,"x":5.78,"y":1,"y2":4},
{"level":244,"part":4,"x":5.78,"y":2.01,"y2":4},{"level":244,"part":4,"x":5.93,"y":2.26,"y2":4},{"level":244,"part":4,"x":6.92,"y":2.27,"y2":4},{"level":244,"part":4,"x":7.99,"y":2.11,"y2":4},{"level":244,"part":4,"x":8.71,"y":2.3,"y2":4},{"level":244,"part":4,"x":9.25,"y":2.75,"y2":4},{"level":244,"part":4,"x":9.52,"y":3.14,"y2":4},{"level":244,"part":4,"x":9.58,"y":4,"y2":4},
{"level":244,"part":5,"x":5.78,"y":1,"y2":2.01},{"level":244,"part":5,"x":5.9,"y":1,"y2":1.78},{"level":244,"part":5,"x":6.97,"y":1,"y2":1.6},{"level":244,"part":5,"x":7.99,"y":1,"y2":1.79},{"level":244,"part":5,"x":9.01,"y":1,"y2":1.5},{"level":244,"part":5,"x":9.25,"y":1,"y2":1},
{"level":246,"part":1,"x":-9.51,"y":4,"y2":4},{"level":246,"part":1,"x":-9.2,"y":3.28,"y2":4},{"level":246,"part":1,"x":-8.9,"y":2.73,"y2":4},{"level":246,"part":1,"x":-8.3,"y":2.43,"y2":4},{"level":246,"part":1,"x":-7.88,"y":2.25,"y2":4},{"level":246,"part":1,"x":-7.27,"y":2.31,"y2":4},{"level":246,"part":1,"x":-5.95,"y":2.31,"y2":4},{"level":246,"part":1,"x":-5.65,"y":2.01,"y2":4},
{"level":246,"part":2,"x":-9.02,"y":1,"y2":1},{"level":246,"part":2,"x":-8.6,"y":1,"y2":1.38},{"level":246,"part":2,"x":-7.97,"y":1,"y2":1.67},{"level":246,"part":2,"x":-7,"y":1,"y2":1.48},{"level":246,"part":2,"x":-6.31,"y":1,"y2":1.65},{"level":246,"part":2,"x":-5.71,"y":1,"y2":1.87},{"level":246,"part":2,"x":-5.65,"y":1,"y2":2.01},
{"level":246,"part":3,"x":-5.65,"y":1,"y2":4},{"level":246,"part":3,"x":5.6,"y":1,"y2":4},
{"level":246,"part":4,"x":5.6,"y":2.01,"y2":4},{"level":246,"part":4,"x":5.96,"y":2.35,"y2":4},{"level":246,"part":4,"x":6.92,"y":2.44,"y2":4},{"level":246,"part":4,"x":7.99,"y":2.2,"y2":4},{"level":246,"part":4,"x":8.71,"y":2.43,"y2":4},{"level":246,"part":4,"x":9.13,"y":2.85,"y2":4},{"level":246,"part":4,"x":9.46,"y":4,"y2":4},
{"level":246,"part":5,"x":5.6,"y":1,"y2":2.01},{"level":246,"part":5,"x":5.72,"y":1,"y2":1.73},{"level":246,"part":5,"x":6.92,"y":1,"y2":1.43},{"level":246,"part":5,"x":7.99,"y":1,"y2":1.54},{"level":246,"part":5,"x":8.95,"y":1,"y2":1.3},{"level":246,"part":5,"x":9.13,"y":1,"y2":1},
{"level":250,"part":1,"x":-9.41,"y":4,"y2":4},{"level":250,"part":1,"x":-9.14,"y":3.49,"y2":4},{"level":250,"part":1,"x":-8.9,"y":2.86,"y2":4},{"level":250,"part":1,"x":-8.36,"y":2.52,"y2":4},{"level":250,"part":1,"x":-7.91,"y":2.41,"y2":4},{"level":250,"part":1,"x":-5.95,"y":2.41,"y2":4},{"level":250,"part":1,"x":-5.55,"y":2.01,"y2":4},
{"level":250,"part":2,"x":-8.9,"y":1,"y2":1},{"level":250,"part":2,"x":-8.42,"y":1,"y2":1.27},{"level":250,"part":2,"x":-7.97,"y":1,"y2":1.49},{"level":250,"part":2,"x":-7,"y":1,"y2":1.31},{"level":250,"part":2,"x":-6.25,"y":1,"y2":1.48},{"level":250,"part":2,"x":-5.59,"y":1,"y2":1.8},{"level":250,"part":2,"x":-5.55,"y":1,"y2":2.01},
{"level":250,"part":3,"x":-5.55,"y":1,"y2":4},{"level":250,"part":3,"x":5.45,"y":1,"y2":4},
{"level":250,"part":4,"x":5.45,"y":2.01,"y2":4},{"level":250,"part":4,"x":5.96,"y":2.46,"y2":4},{"level":250,"part":4,"x":6.92,"y":2.49,"y2":4},{"level":250,"part":4,"x":7.99,"y":2.34,"y2":4},{"level":250,"part":4,"x":8.47,"y":2.64,"y2":4},{"level":250,"part":4,"x":8.83,"y":3.28,"y2":4},{"level":250,"part":4,"x":9.19,"y":3.81,"y2":4},{"level":250,"part":4,"x":9.28,"y":4,"y2":4},
{"level":250,"part":5,"x":5.45,"y":1,"y2":2.01},{"level":250,"part":5,"x":5.6,"y":1,"y2":1.58},{"level":250,"part":5,"x":6.38,"y":1,"y2":1.35},{"level":250,"part":5,"x":6.97,"y":1,"y2":1.27},{"level":250,"part":5,"x":7.93,"y":1,"y2":1.35},{"level":250,"part":5,"x":9.01,"y":1,"y2":1},
{"level":252,"part":1,"x":-9.23,"y":4,"y2":4},{"level":252,"part":1,"x":-9.02,"y":3.62,"y2":4},{"level":252,"part":1,"x":-8.72,"y":3.3,"y2":4},{"level":252,"part":1,"x":-8.36,"y":2.9,"y2":4},{"level":252,"part":1,"x":-7.97,"y":2.62,"y2":4},{"level":252,"part":1,"x":-6.55,"y":2.62,"y2":4},{"level":252,"part":1,"x":-6.01,"y":2.59,"y2":4},{"level":252,"part":1,"x":-5.65,"y":2.33,"y2":4},{"level":252,"part":1,"x":-5.46,"y":2.01,"y2":4},
{"level":252,"part":2,"x":-8.3,"y":1,"y2":1},{"level":252,"part":2,"x":-7.97,"y":1,"y2":1.18},{"level":252,"part":2,"x":-7.33,"y":1,"y2":1},
{"level":252,"part":6,"x":-6.88,"y":1,"y2":1},{"level":252,"part":6,"x":-6.31,"y":1,"y2":1.38},{"level":252,"part":6,"x":-5.65,"y":1,"y2":1.61},{"level":252,"part":6,"x":-5.46,"y":1,"y2":2.01},
{"level":252,"part":3,"x":-5.46,"y":1,"y2":4},{"level":252,"part":3,"x":5.39,"y":1,"y2":4},
{"level":252,"part":4,"x":5.39,"y":2.01,"y2":4},{"level":252,"part":4,"x":5.54,"y":2.52,"y2":4},{"level":252,"part":4,"x":5.96,"y":2.63,"y2":4},{"level":252,"part":4,"x":6.92,"y":2.71,"y2":4},{"level":252,"part":4,"x":7.99,"y":2.59,"y2":4},{"level":252,"part":4,"x":8.29,"y":2.68,"y2":4},{"level":252,"part":4,"x":8.71,"y":3.34,"y2":4},{"level":252,"part":4,"x":9.07,"y":3.76,"y2":4},{"level":252,"part":4,"x":9.19,"y":4,"y2":4},
{"level":252,"part":5,"x":5.39,"y":1,"y2":2.01},{"level":252,"part":5,"x":5.48,"y":1,"y2":1.55},{"level":252,"part":5,"x":6.32,"y":1,"y2":1.27},{"level":252,"part":5,"x":6.88,"y":1,"y2":1},
{"level":254,"part":1,"x":-9.17,"y":4,"y2":4},{"level":254,"part":1,"x":-8.96,"y":3.65,"y2":4},{"level":254,"part":1,"x":-8.57,"y":3.44,"y2":4},{"level":254,"part":1,"x":-8.3,"y":3.02,"y2":4},{"level":254,"part":1,"x":-7.97,"y":2.75,"y2":4},{"level":254,"part":1,"x":-6.55,"y":2.75,"y2":4},{"level":254,"part":1,"x":-5.98,"y":2.7,"y2":4},{"level":254,"part":1,"x":-5.52,"y":2.33,"y2":4},{"level":254,"part":1,"x":-5.4,"y":2.01,"y2":4},
{"level":254,"part":2,"x":-6.76,"y":1,"y2":1},{"level":254,"part":2,"x":-6.34,"y":1,"y2":1.35},{"level":254,"part":2,"x":-5.52,"y":1,"y2":1.57},{"level":254,"part":2,"x":-5.4,"y":1,"y2":2.01},
{"level":254,"part":3,"x":-5.4,"y":1,"y2":4},{"level":254,"part":3,"x":5.33,"y":1,"y2":4},
{"level":254,"part":4,"x":5.33,"y":2.01,"y2":4},{"level":254,"part":4,"x":5.48,"y":2.49,"y2":4},{"level":254,"part":4,"x":5.96,"y":2.75,"y2":4},{"level":254,"part":4,"x":6.94,"y":2.84,"y2":4},{"level":254,"part":4,"x":7.96,"y":2.71,"y2":4},{"level":254,"part":4,"x":8.53,"y":3.45,"y2":4},{"level":254,"part":4,"x":9.01,"y":3.72,"y2":4},{"level":254,"part":4,"x":9.16,"y":4,"y2":4},
{"level":254,"part":5,"x":5.33,"y":1,"y2":2.01},{"level":254,"part":5,"x":5.45,"y":1,"y2":1.47},{"level":254,"part":5,"x":6.26,"y":1,"y2":1.28},{"level":254,"part":5,"x":6.68,"y":1,"y2":1},
{"level":256,"part":1,"x":-9.14,"y":4,"y2":4},{"level":256,"part":1,"x":-9.08,"y":3.78,"y2":4},{"level":256,"part":1,"x":-8.48,"y":3.52,"y2":4},{"level":256,"part":1,"x":-8.18,"y":2.94,"y2":4},{"level":256,"part":1,"x":-8.03,"y":2.86,"y2":4},{"level":256,"part":1,"x":-6.01,"y":2.8,"y2":4},{"level":256,"part":1,"x":-5.65,"y":2.52,"y2":4},{"level":256,"part":1,"x":-5.37,"y":2.01,"y2":4},
{"level":256,"part":2,"x":-6.64,"y":1,"y2":1},{"level":256,"part":2,"x":-6.25,"y":1,"y2":1.3},{"level":256,"part":2,"x":-5.52,"y":1,"y2":1.53},{"level":256,"part":2,"x":-5.37,"y":1,"y2":2.01},
{"level":256,"part":3,"x":-5.37,"y":1,"y2":4},{"level":256,"part":3,"x":5.24,"y":1,"y2":4},
{"level":256,"part":4,"x":5.24,"y":2.01,"y2":4},{"level":256,"part":4,"x":5.39,"y":2.64,"y2":4},{"level":256,"part":4,"x":5.96,"y":2.84,"y2":4},{"level":256,"part":4,"x":6.94,"y":2.94,"y2":4},{"level":256,"part":4,"x":7.99,"y":2.81,"y2":4},{"level":256,"part":4,"x":8.35,"y":3.39,"y2":4},{"level":256,"part":4,"x":8.53,"y":3.45,"y2":4},{"level":256,"part":4,"x":9.01,"y":3.76,"y2":4},{"level":256,"part":4,"x":9.07,"y":4,"y2":4},
{"level":256,"part":5,"x":5.24,"y":1,"y2":2.01},{"level":256,"part":5,"x":5.42,"y":1,"y2":1.47},{"level":256,"part":5,"x":5.78,"y":1,"y2":1.28},{"level":256,"part":5,"x":6.47,"y":1,"y2":1},
{"level":254,"part":6,"x":8.02,"y":3.98,"y2":3.98},{"level":254,"part":6,"x":8.35,"y":3.41,"y2":3.89},{"level":254,"part":6,"x":8.53,"y":3.45,"y2":3.84},{"level":254,"part":6,"x":8.77,"y":3.62,"y2":3.77},{"level":254,"part":6,"x":8.95,"y":3.78,"y2":3.92},{"level":254,"part":6,"x":9.01,"y":3.9,"y2":3.98},
{"level":260,"part":1,"x":-9.11,"y":4,"y2":4},{"level":260,"part":1,"x":-8.96,"y":3.83,"y2":4},{"level":260,"part":1,"x":-8.27,"y":3.75,"y2":4},{"level":260,"part":1,"x":-8.15,"y":3.36,"y2":4},{"level":260,"part":1,"x":-8.03,"y":2.99,"y2":4},{"level":260,"part":1,"x":-6.01,"y":2.88,"y2":4},{"level":260,"part":1,"x":-5.4,"y":2.61,"y2":4},{"level":260,"part":1,"x":-5.31,"y":2.01,"y2":4},
{"level":260,"part":2,"x":-6.55,"y":1,"y2":1},{"level":260,"part":2,"x":-5.95,"y":1,"y2":1.36},{"level":260,"part":2,"x":-5.4,"y":1,"y2":1.4},{"level":260,"part":2,"x":-5.31,"y":1,"y2":2.01},
{"level":260,"part":3,"x":-5.31,"y":1,"y2":4},{"level":260,"part":3,"x":5.12,"y":1,"y2":4},
{"level":260,"part":4,"x":5.12,"y":2.01,"y2":4},{"level":260,"part":4,"x":5.18,"y":2.82,"y2":4},{"level":260,"part":4,"x":5.96,"y":2.92,"y2":4},{"level":260,"part":4,"x":6.5,"y":3,"y2":4},{"level":260,"part":4,"x":6.68,"y":3.34,"y2":4},{"level":260,"part":4,"x":6.97,"y":3.51,"y2":4},{"level":260,"part":4,"x":7.39,"y":3.62,"y2":4},{"level":260,"part":4,"x":7.4,"y":4,"y2":4},
{"level":260,"part":5,"x":5.12,"y":1,"y2":2.01},{"level":260,"part":5,"x":5.27,"y":1,"y2":1.27},{"level":260,"part":5,"x":5.75,"y":1,"y2":1.27},{"level":260,"part":5,"x":6.31,"y":1,"y2":1},
{"level":260,"part":6,"x":7.51,"y":3,"y2":3},{"level":260,"part":6,"x":7.57,"y":3.05,"y2":3.42},{"level":260,"part":6,"x":7.99,"y":2.94,"y2":3.34},{"level":260,"part":6,"x":8.11,"y":3.15,"y2":3.15},
{"level":262,"part":1,"x":-6.01,"y":3.02,"y2":3.02},{"level":262,"part":1,"x":-5.71,"y":2.88,"y2":4},{"level":262,"part":1,"x":-5.25,"y":2.77,"y2":4},
{"level":262,"part":2,"x":-6.4,"y":1,"y2":1},{"level":262,"part":2,"x":-5.95,"y":1,"y2":1.1},{"level":262,"part":2,"x":-5.37,"y":1,"y2":1.33},{"level":262,"part":2,"x":-5.25,"y":1,"y2":1.5},
{"level":262,"part":3,"x":-5.25,"y":1.5,"y2":4},{"level":262,"part":3,"x":-5.19,"y":1,"y2":4},{"level":262,"part":3,"x":-3.94,"y":1,"y2":4},{"level":262,"part":3,"x":-3.91,"y":1.05,"y2":4},{"level":262,"part":3,"x":-3.58,"y":1.59,"y2":3.65},{"level":262,"part":3,"x":-3.46,"y":2.43,"y2":3.52},{"level":262,"part":3,"x":-3.45,"y":2.43,"y2":3.52},
{"level":262,"part":4,"x":-3.01,"y":4,"y2":4},{"level":262,"part":4,"x":-2.62,"y":3.4,"y2":4},{"level":262,"part":4,"x":-2.01,"y":3,"y2":4},{"level":262,"part":4,"x":-1.23,"y":3.24,"y2":4},{"level":262,"part":4,"x":-0.69,"y":3.28,"y2":4},{"level":262,"part":4,"x":0,"y":3,"y2":4},{"level":262,"part":4,"x":0.46,"y":3.6,"y2":4},{"level":262,"part":4,"x":0.52,"y":4,"y2":4},
{"level":262,"part":5,"x":-2.86,"y":1,"y2":1},{"level":262,"part":5,"x":-2.74,"y":1,"y2":1.75},{"level":262,"part":5,"x":-2.01,"y":1,"y2":2.01},{"level":262,"part":5,"x":-1.23,"y":1,"y2":1.75},{"level":262,"part":5,"x":-1.05,"y":1,"y2":1},
{"level":262,"part":6,"x":-0.9,"y":1,"y2":1},{"level":262,"part":6,"x":-0.84,"y":1,"y2":1.84},{"level":262,"part":6,"x":0,"y":1,"y2":2.02},{"level":262,"part":6,"x":1.24,"y":1,"y2":1.92},{"level":262,"part":6,"x":1.97,"y":1,"y2":1.91},{"level":262,"part":6,"x":2.69,"y":1,"y2":1.65},{"level":262,"part":6,"x":3.05,"y":1,"y2":1.28},{"level":262,"part":6,"x":3.47,"y":1,"y2":1.52},{"level":262,"part":6,"x":3.53,"y":1,"y2":1.65},{"level":262,"part":6,"x":3.54,"y":1,"y2":4},{"level":262,"part":6,"x":4.7,"y":1,"y2":4},{"level":262,"part":6,"x":5,"y":1,"y2":3.02},{"level":262,"part":6,"x":5.03,"y":1,"y2":2},{"level":262,"part":6,"x":5.12,"y":1,"y2":1.11},{"level":262,"part":6,"x":6.03,"y":1,"y2":1.1},{"level":262,"part":6,"x":6.32,"y":1,"y2":1},
{"level":262,"part":7,"x":3.05,"y":4,"y2":4},{"level":262,"part":7,"x":3.44,"y":3.28,"y2":4},{"level":262,"part":7,"x":3.54,"y":2.77,"y2":4},
{"level":256,"part":7,"x":2.54,"y":2.02,"y2":2.02},{"level":256,"part":7,"x":2.87,"y":1.9,"y2":2.63},{"level":256,"part":7,"x":3.02,"y":1.85,"y2":2.92},{"level":256,"part":7,"x":3.05,"y":1.77,"y2":2.85},{"level":256,"part":7,"x":3.11,"y":1.85,"y2":2.43},{"level":256,"part":7,"x":3.2,"y":1.97,"y2":1.97},
{"level":264,"part":1,"x":-5.34,"y":3.04,"y2":3.04},{"level":264,"part":1,"x":-5.28,"y":2.98,"y2":3.25},{"level":264,"part":1,"x":-5.09,"y":2.94,"y2":3.62},
{"level":264,"part":2,"x":-6.1,"y":1,"y2":1},{"level":264,"part":2,"x":-6.07,"y":1,"y2":1.06},{"level":264,"part":2,"x":-5.4,"y":1,"y2":1.19},{"level":264,"part":2,"x":-5.22,"y":1,"y2":1.2},{"level":264,"part":2,"x":-5.16,"y":1,"y2":1.5},{"level":264,"part":2,"x":-5.1,"y":1,"y2":2.01},{"level":264,"part":2,"x":-5.09,"y":1,"y2":3.62},{"level":264,"part":2,"x":-4.98,"y":1,"y2":4},{"level":264,"part":2,"x":-4.52,"y":1,"y2":3.02},{"level":264,"part":2,"x":-4.49,"y":1,"y2":2},{"level":264,"part":2,"x":-4.38,"y":1,"y2":1.63},
{"level":264,"part":3,"x":-2.56,"y":1,"y2":1},{"level":264,"part":3,"x":-2.38,"y":1,"y2":1.43},{"level":264,"part":3,"x":-2.01,"y":1,"y2":1.67},{"level":264,"part":3,"x":-1.59,"y":1,"y2":1.41},{"level":264,"part":3,"x":-1.38,"y":1,"y2":1},
{"level":264,"part":4,"x":-1.98,"y":4,"y2":4},{"level":264,"part":4,"x":-1.29,"y":3.75,"y2":4},{"level":264,"part":4,"x":-0.9,"y":3.75,"y2":4},{"level":264,"part":4,"x":-0.72,"y":3.81,"y2":4},{"level":264,"part":4,"x":-0.48,"y":4,"y2":4},
{"level":264,"part":5,"x":-0.72,"y":1,"y2":1},{"level":264,"part":5,"x":-0.51,"y":1,"y2":1.44},{"level":264,"part":5,"x":-0.02,"y":1,"y2":1.81},{"level":264,"part":5,"x":0.16,"y":1,"y2":1.82},{"level":264,"part":5,"x":1.24,"y":1,"y2":1.73},{"level":264,"part":5,"x":1.76,"y":1,"y2":1.73},{"level":264,"part":5,"x":2.39,"y":1,"y2":1.46},{"level":264,"part":5,"x":2.9,"y":1,"y2":1},
{"level":266,"part":1,"x":-5.49,"y":1,"y2":1},{"level":266,"part":1,"x":-5.16,"y":1,"y2":1.1},{"level":266,"part":1,"x":-4.98,"y":1,"y2":1.5},{"level":266,"part":1,"x":-4.8,"y":1,"y2":1.1},{"level":266,"part":1,"x":-4.77,"y":1,"y2":1},
{"level":266,"part":2,"x":-2.29,"y":1,"y2":1},{"level":266,"part":2,"x":-2.2,"y":1,"y2":1.15},{"level":266,"part":2,"x":-2.01,"y":1,"y2":1.33},{"level":266,"part":2,"x":-1.75,"y":1,"y2":1.15},{"level":266,"part":2,"x":-1.68,"y":1,"y2":1},
{"level":266,"part":3,"x":-0.57,"y":1,"y2":1},{"level":266,"part":3,"x":-0.39,"y":1,"y2":1.4},{"level":266,"part":3,"x":-0.02,"y":1,"y2":1.62},{"level":266,"part":3,"x":1,"y":1,"y2":1.63},{"level":266,"part":3,"x":1.91,"y":1,"y2":1.48},{"level":266,"part":3,"x":2.27,"y":1,"y2":1.34},{"level":266,"part":3,"x":2.6,"y":1,"y2":1},
{"level":268,"part":0,"x":-0.39,"y":1,"y2":1},{"level":268,"part":0,"x":-0.14,"y":1,"y2":1.37},{"level":268,"part":0,"x":0.7,"y":1,"y2":1.48},{"level":268,"part":0,"x":1.06,"y":1,"y2":1.48},{"level":268,"part":0,"x":1.91,"y":1,"y2":1.36},{"level":268,"part":0,"x":2.27,"y":1,"y2":1},
{"level":270,"part":0,"x":-0.17,"y":1,"y2":1},{"level":270,"part":0,"x":-0.02,"y":1,"y2":1.2},{"level":270,"part":0,"x":0.76,"y":1,"y2":1.32},{"level":270,"part":0,"x":1.18,"y":1,"y2":1.29},{"level":270,"part":0,"x":2,"y":1,"y2":1},
{"level":272,"part":0,"x":0.04,"y":1,"y2":1},{"level":272,"part":0,"x":1,"y":1,"y2":1.18},{"level":272,"part":0,"x":1.48,"y":1,"y2":1}
],
"labelA":[{"x":-12.9,"y":3.67,"text":"(a)"}],"labelB":[{"x":-12.87,"y":3.65,"text":"(b)"}],"one":[{"frame":1}]},
"vconcat":[
{"width":2216,"height":543,"layer":[
{"data":{"name":"a"},"mark":{"type":"area","clip":true,"interpolate":"linear"},"encoding":{
"x":{"field":"x","type":"quantitative","scale":{"domain":[-13.1,13.1],"nice":false,"zero":false},"axis":{"values":[-10,-5,0,5,10],"labels":false,"title":null,"domainWidth":6,"tickSize":9,"tickWidth":3}},
"y":{"field":"y","type":"quantitative","scale":{"domain":[1,4],"nice":false,"zero":false},"axis":{"values":[1,2,3,4],"format":"d","title":null,"domainWidth":6,"tickSize":20,"tickWidth":8,"tickCap":"round","labelPadding":34}},
"y2":{"field":"y2"},
"detail":{"field":"part","type":"nominal"},
"color":{"field":"level","type":"ordinal","scale":{"domain":[236,238,240,242,244,246,250,252,254,256,260,262,264,266,268,270,272,274,276,278,280,282],"range":["#4a0080","#380080","#200080","#000080","#0000a0","#0000d0","#0000ff","#0040a8","#007070","#00a800","#00c800","#00e000","#80f000","#e0ff00","#ffe800","#ffc800","#ffa800","#ff8800","#ff6800","#ff4000","#ff2000","#ff0000"]},
"legend":{"values":[240,250,260,270,280],"orient":"none","legendX":2246,"legendY":254,"title":" ","titleOrient":"right","titleFontSize":10,"titlePadding":28,"symbolType":"M-1,-0.64H1V-0.22H-1Z","symbolSize":25600,"symbolStrokeWidth":0,"labelFont":"Liberation Sans","labelFontWeight":"bold","labelFontSize":68,"labelColor":"black","labelBaseline":"bottom","labelOffset":43,"rowPadding":-110,"padding":41,"strokeColor":"#222222","symbolOffset":0}}}},
{"data":{"name":"labelA"},"mark":{"type":"text","align":"left","baseline":"middle","font":"Lato","fontWeight":"bold","fontSize":108,"color":"white"},"encoding":{"x":{"field":"x","type":"quantitative"},"y":{"field":"y","type":"quantitative"},"text":{"field":"text"}}},
{"data":{"name":"one"},"mark":{"type":"rule","color":"black","strokeWidth":10,"yOffset":-6},"encoding":{"y":{"datum":4}}},
{"data":{"name":"one"},"mark":{"type":"rule","color":"black","strokeWidth":5,"xOffset":2},"encoding":{"x":{"datum":13.1}}},
{"data":{"name":"one"},"mark":{"type":"rule","color":"black","strokeWidth":6},"encoding":{"x":{"datum":-13.1}}},
{"data":{"name":"one"},"mark":{"type":"rule","color":"black","strokeWidth":5,"yOffset":2},"encoding":{"y":{"datum":1}}}
]},
{"width":2216,"height":543,"layer":[
{"data":{"name":"b"},"mark":{"type":"area","clip":true,"interpolate":"linear"},"encoding":{
"x":{"field":"x","type":"quantitative","scale":{"domain":[-13.1,13.1],"nice":false,"zero":false},"axis":{"values":[-10,-5,0,5,10],"format":"d","title":"Distance from weld center, mm","titleFontSize":80,"titleX":1092,"domainWidth":6,"tickSize":9,"tickWidth":3,"labelPadding":42,"titlePadding":29}},
"y":{"field":"y","type":"quantitative","scale":{"domain":[1,4],"nice":false,"zero":false},"axis":{"values":[1,2,3,4],"format":"d","title":"Distance from top to bottom, mm","titleFontSize":76,"titleX":-152,"titleY":-27,"titleAngle":-90,"titleAlign":"center","titleBaseline":"middle","domainWidth":6,"tickSize":20,"tickWidth":8,"tickCap":"round","labelPadding":34}},
"y2":{"field":"y2"},
"detail":{"field":"part","type":"nominal"},
"color":{"field":"level","type":"ordinal","scale":{"domain":[236,238,240,242,244,246,250,252,254,256,260,262,264,266,268,270,272,274,276,278,280,282],"range":["#4a0080","#380080","#200080","#000080","#0000a0","#0000d0","#0000ff","#0040a8","#007070","#00a800","#00c800","#00e000","#80f000","#e0ff00","#ffe800","#ffc800","#ffa800","#ff8800","#ff6800","#ff4000","#ff2000","#ff0000"]},"legend":null}}},
{"data":{"name":"labelB"},"mark":{"type":"text","align":"left","baseline":"middle","font":"Lato","fontWeight":"bold","fontSize":108,"color":"white"},"encoding":{"x":{"field":"x","type":"quantitative"},"y":{"field":"y","type":"quantitative"},"text":{"field":"text"}}},
{"data":{"name":"one"},"mark":{"type":"rule","color":"black","strokeWidth":10,"yOffset":-6},"encoding":{"y":{"datum":4}}},
{"data":{"name":"one"},"mark":{"type":"rule","color":"black","strokeWidth":5,"xOffset":2},"encoding":{"x":{"datum":13.1}}},
{"data":{"name":"one"},"mark":{"type":"rule","color":"black","strokeWidth":6},"encoding":{"x":{"datum":-13.1}}},
{"data":{"name":"one"},"mark":{"type":"rule","color":"black","strokeWidth":5,"yOffset":2},"encoding":{"y":{"datum":1}}}
]}
]}
